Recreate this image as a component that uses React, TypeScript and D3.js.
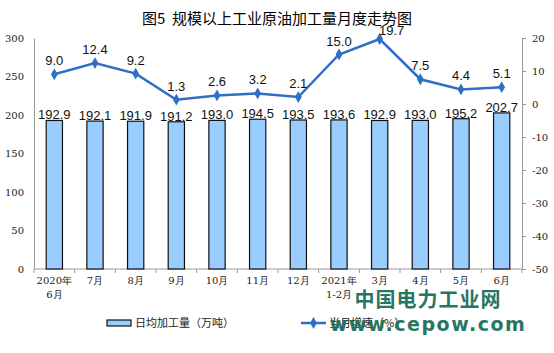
import React, { useEffect, useRef } from "react";
import * as d3 from "d3";

const months = ["2020年\n6月", "7月", "8月", "9月", "10月", "11月", "12月", "2021年\n1-2月", "3月", "4月", "5月", "6月"];
const dailyOutput = [192.9, 192.1, 191.9, 191.2, 193.0, 194.5, 193.5, 193.6, 192.9, 193.0, 195.2, 202.7];
const growth = [9.0, 12.4, 9.2, 1.3, 2.6, 3.2, 2.1, 15.0, 19.7, 7.5, 4.4, 5.1];
const leftTicks = [0, 50, 100, 150, 200, 250, 300];
const rightTicks = [-50, -40, -30, -20, -10, 0, 10, 20];

const App = () => {
  const svgRef = useRef(null);

  useEffect(() => {
    const width = 554;
    const height = 353;
    const margin = { top: 38, right: 32, bottom: 84, left: 34 };
    const svg = d3.select(svgRef.current);
    svg.selectAll("*").remove();
    svg.attr("width", width).attr("height", height);

    const serif = "'DejaVu Serif', serif";
    const sans = "'Noto Sans CJK SC', 'Noto Sans', sans-serif";
    const lineColor = "#2f6fc4";

    const x = d3
      .scaleBand()
      .domain(months)
      .range([margin.left, width - margin.right])
      .paddingInner(0.6)
      .paddingOuter(0.3);
    const yL = d3.scaleLinear().domain([0, 300]).range([height - margin.bottom, margin.top]);
    const yR = d3.scaleLinear().domain([-50, 20]).range([height - margin.bottom, margin.top]);
    const bottom = yL(0);

    // title
    svg
      .append("text")
      .attr("x", 277)
      .attr("y", 24)
      .attr("text-anchor", "middle")
      .attr("font-family", sans)
      .attr("font-size", 15)
      .style("white-space", "pre")
      .text("图5  规模以上工业原油加工量月度走势图");

    // left axis
    const gL = svg
      .append("g")
      .attr("transform", `translate(${margin.left},0)`)
      .call(d3.axisLeft(yL).tickValues(leftTicks).tickSize(0).tickPadding(10).tickFormat((d) => String(d)));
    gL.select(".domain").attr("stroke", "#999");
    gL.selectAll("text").attr("font-family", serif).attr("font-size", 10).attr("fill", "#222");

    // right axis
    const gR = svg
      .append("g")
      .attr("transform", `translate(${width - margin.right},0)`)
      .call(d3.axisRight(yR).tickValues(rightTicks).tickSize(4).tickPadding(6).tickFormat((d) => String(d)));
    gR.select(".domain").attr("stroke", "#999");
    gR.selectAll("line").attr("stroke", "#999");
    gR.selectAll("text").attr("font-family", serif).attr("font-size", 10).attr("fill", "#222");

    // bottom axis
    svg
      .append("line")
      .attr("x1", margin.left)
      .attr("x2", width - margin.right)
      .attr("y1", bottom)
      .attr("y2", bottom)
      .attr("stroke", "#999");
    const step = x.step();
    const bounds = d3.range(months.length + 1).map((i) => margin.left + i * step);
    svg
      .selectAll(".xtick")
      .data(bounds)
      .enter()
      .append("line")
      .attr("x1", (d) => d)
      .attr("x2", (d) => d)
      .attr("y1", bottom)
      .attr("y2", bottom + 4)
      .attr("stroke", "#999");

    const xl = svg
      .selectAll(".xlabel")
      .data(months)
      .enter()
      .append("text")
      .attr("text-anchor", "middle")
      .attr("font-family", serif)
      .attr("font-size", 10)
      .attr("fill", "#222");
    xl.each(function (d) {
      const cx = x(d) + x.bandwidth() / 2;
      d.split("\n").forEach((s, i) => {
        d3.select(this)
          .append("tspan")
          .attr("x", cx)
          .attr("y", bottom + 15 + i * 14)
          .text(s);
      });
    });

    // bars
    svg
      .selectAll(".bar")
      .data(dailyOutput)
      .enter()
      .append("rect")
      .attr("x", (d, i) => x(months[i]))
      .attr("y", (d) => yL(d))
      .attr("width", x.bandwidth())
      .attr("height", (d) => bottom - yL(d))
      .attr("fill", "#99ccff")
      .attr("stroke", "#111")
      .attr("stroke-width", 1.2);

    svg
      .selectAll(".barlabel")
      .data(dailyOutput)
      .enter()
      .append("text")
      .attr("x", (d, i) => x(months[i]) + x.bandwidth() / 2)
      .attr("y", (d) => yL(d) - 1)
      .attr("text-anchor", "middle")
      .attr("font-family", "'Liberation Sans', Arial, sans-serif")
      .attr("font-size", 13)
      .attr("fill", "#111")
      .text((d) => d.toFixed(1));

    // line
    const line = d3
      .line()
      .x((d, i) => x(months[i]) + x.bandwidth() / 2)
      .y((d) => yR(d));
    svg
      .append("path")
      .datum(growth)
      .attr("d", line)
      .attr("fill", "none")
      .attr("stroke", lineColor)
      .attr("stroke-width", 2.5);

    const diamond = d3.symbol().type(d3.symbolDiamond).size(40);
    svg
      .selectAll(".marker")
      .data(growth)
      .enter()
      .append("path")
      .attr("d", diamond)
      .attr("transform", (d, i) => `translate(${x(months[i]) + x.bandwidth() / 2},${yR(d)})`)
      .attr("fill", lineColor);

    svg
      .selectAll(".linelabel")
      .data(growth)
      .enter()
      .append("text")
      .attr("x", (d, i) => x(months[i]) + x.bandwidth() / 2 + (i === 8 ? 12 : 0))
      .attr("y", (d, i) => yR(d) - (i === 8 ? 4 : 9))
      .attr("text-anchor", "middle")
      .attr("font-family", "'Liberation Sans', Arial, sans-serif")
      .attr("font-size", 13)
      .attr("fill", "#111")
      .text((d) => d.toFixed(1));

    // legend
    const ly = 323;
    svg
      .append("rect")
      .attr("x", 107)
      .attr("y", ly - 3)
      .attr("width", 24)
      .attr("height", 6)
      .attr("fill", "#99ccff")
      .attr("stroke", "#111")
      .attr("stroke-width", 1.2);
    svg
      .append("text")
      .attr("x", 135)
      .attr("y", ly + 4)
      .attr("font-family", sans)
      .attr("font-size", 11)
      .attr("fill", "#222")
      .text("日均加工量（万吨）");
    svg
      .append("line")
      .attr("x1", 301)
      .attr("x2", 326)
      .attr("y1", ly)
      .attr("y2", ly)
      .attr("stroke", lineColor)
      .attr("stroke-width", 2.5);
    svg
      .append("path")
      .attr("d", diamond)
      .attr("transform", `translate(313.5,${ly})`)
      .attr("fill", lineColor);
    svg
      .append("text")
      .attr("x", 329)
      .attr("y", ly + 4)
      .attr("font-family", sans)
      .attr("font-size", 11)
      .attr("fill", "#222")
      .text("当月增速（%）");

    // watermark
    svg
      .append("text")
      .attr("x", 428)
      .attr("y", 307)
      .attr("text-anchor", "middle")
      .attr("font-family", sans)
      .attr("font-weight", "bold")
      .attr("font-size", 20)
      .attr("letter-spacing", 1)
      .attr("fill", "#1b6f5c")
      .attr("opacity", 0.95)
      .text("中国电力工业网");
    svg
      .append("text")
      .attr("x", 428)
      .attr("y", 331)
      .attr("text-anchor", "middle")
      .attr("font-family", "'DejaVu Sans', sans-serif")
      .attr("font-weight", "bold")
      .attr("font-size", 19)
      .attr("letter-spacing", 1.5)
      .attr("fill", "#1b6f5c")
      .attr("opacity", 0.95)
      .text("www.cepow.com");
  }, []);

  return (
    <div style={{ position: "absolute", left: 0, top: 0 }}>
      <svg ref={svgRef}></svg>
    </div>
  );
};

export default App;
